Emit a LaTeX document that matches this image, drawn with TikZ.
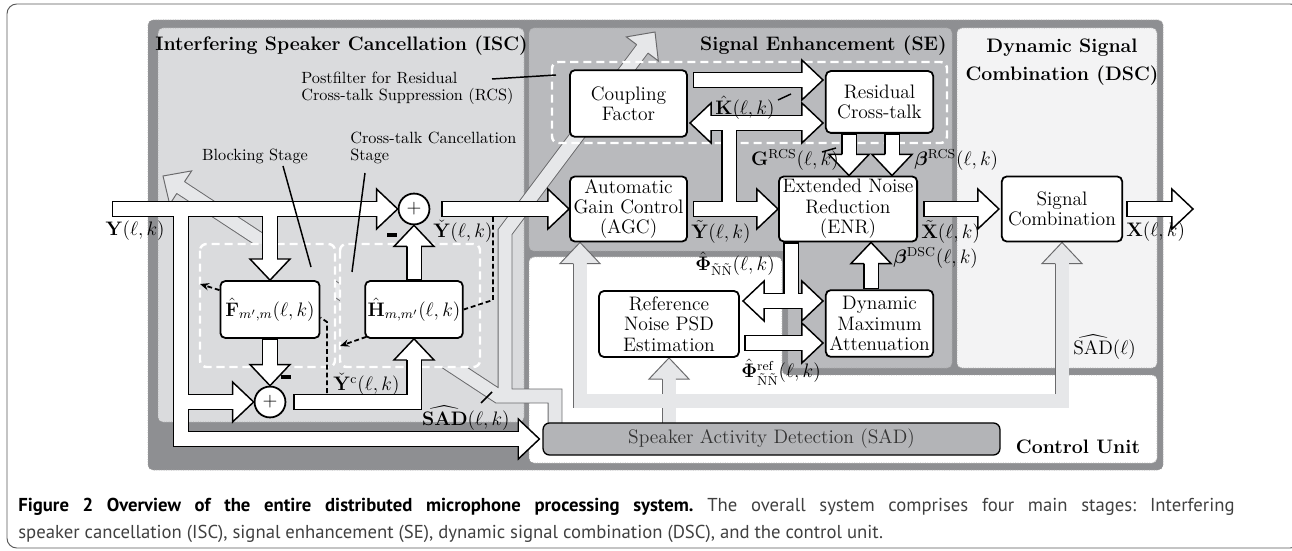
\documentclass[tikz,border=0pt]{standalone}
\usepackage{amsmath,bm}
\usepackage[no-math]{fontspec}
\newfontfamily\capfont{PT Sans}
\usetikzlibrary{calc,arrows.meta}

\definecolor{darkreg}{HTML}{8E8F92}
\definecolor{iscreg}{HTML}{DADBDD}
\definecolor{sereg}{HTML}{B9BABD}
\definecolor{dscreg}{HTML}{F3F3F4}
\definecolor{sadbar}{HTML}{B3B4B7}
\definecolor{pipefill}{HTML}{E6E7E9}
\definecolor{pipeline}{HTML}{6A6A6C}

\newcommand\bigfont{\fontsize{12}{12.5}\selectfont}
\newcommand\headat[3]{\path let \p1=($(#3)-(#2)$), \n1={atan2(\y1,\x1)} in (#3) pic[rotate=\n1] {#1};}

\pgfdeclarelayer{bg}
\pgfdeclarelayer{gp}
\pgfdeclarelayer{sb}
\pgfdeclarelayer{wp}
\pgfsetlayers{bg,gp,sb,wp,main}

\tikzset{
  region/.style={draw=black!35, densely dotted, line width=0.5pt, rounded corners=3pt},
  block/.style={draw, fill=white, line width=1.1pt, rounded corners=3pt, align=center, inner sep=1pt, font=\bigfont},
  sumnode/.style={circle, draw, fill=white, line width=1.1pt, minimum size=19pt, inner sep=0pt, font=\bigfont},
  subbox/.style={draw=white, dash pattern=on 5pt off 3pt, line width=1.5pt, rounded corners=4pt},
  wpipe/.style={draw=black, line width=0.9pt, double=white, double distance=8pt, line cap=rect, line join=miter},
  gpipe/.style={draw=pipeline, line width=0.6pt, double=pipefill, double distance=8pt, line cap=rect, line join=miter},
  ctrl/.style={line width=1.1pt, dash pattern=on 3pt off 1.8pt},
  leader/.style={line width=0.9pt},
  lbl/.style={inner sep=0pt, font=\bigfont},
  annot/.style={inner sep=0pt, font=\fontsize{10}{10.5}\selectfont, align=left},
  sectitle/.style={inner sep=0pt, font=\fontsize{12}{17.5}\selectfont\bfseries},
  minusbar/.style={fill, inner sep=0pt, minimum width=6.5pt, minimum height=1.9pt},
  whead/.pic={\filldraw[fill=white, draw=black, line width=0.9pt, line join=miter]
    (-13pt,4.45pt) -- (-13pt,12.3pt) -- (0pt,0pt) -- (-13pt,-12.3pt) -- (-13pt,-4.45pt);},
  ghead/.pic={\filldraw[fill=pipefill, draw=pipeline, line width=0.6pt, line join=miter]
    (-13pt,4.3pt) -- (-13pt,12.3pt) -- (0pt,0pt) -- (-13pt,-12.3pt) -- (-13pt,-4.3pt);},
}

\begin{document}
\begin{tikzpicture}[x=0.615pt,y=-0.615pt]
\useasboundingbox (0,0) rectangle (1292,551);

% frame, caption and regions
\begin{pgfonlayer}{bg}
\draw[black!65, line width=0.6pt, rounded corners=6pt] (7,4) rectangle (1300,548);
\draw[region, fill=darkreg] (148,20) rectangle (1163,470);
\draw[region, fill=iscreg] (158,28) rectangle (524,422);
\draw[region, fill=sereg] (529,28) -- (952,28) -- (952,368) -- (788,368) -- (788,251) -- (529,251) -- cycle;
\draw[region, fill=dscreg] (957,28) rectangle (1157,368);
\draw[region, fill=white] (529,257) -- (782,257) -- (782,375) -- (1157,375) -- (1157,463) -- (529,463) -- cycle;
\end{pgfonlayer}
\node[anchor=base west, inner sep=0pt, font=\capfont\fontsize{11.5}{14}\selectfont] (cap1) at (18,511)
  {\spaceskip=3pt plus 1fil\xspaceskip=3pt plus 1fil\makebox[748pt][s]{\textbf{Figure 2 Overview of the entire distributed microphone processing system.} \textcolor{black!75}{The overall system comprises four main stages: Interfering}}};
\node[anchor=base west, inner sep=0pt, font=\capfont\fontsize{11.5}{14}\selectfont, text=black!75] (cap2) at (18,538)
  {speaker cancellation (ISC), signal enhancement (SE), dynamic signal combination (DSC), and the control unit.};

% titles
\node[sectitle, anchor=west] (isct) at (155,46) {Interfering Speaker Cancellation (ISC)};
\node[sectitle, anchor=east] (set) at (947,46) {Signal Enhancement (SE)};
\node[sectitle, align=center] (dsct) at (1062,62) {Dynamic Signal\\Combination (DSC)};
\node[sectitle] (cut) at (1078,447) {Control Unit};

% blocks
\node[sumnode] (sumA) at (414,209) {$+$};
\node[sumnode] (sumB) at (270,402) {$+$};
\node[block, minimum width=61pt, minimum height=35pt] (fbox) at (270,309.5) {$\hat{\mathbf{F}}_{m',m}(\ell,k)$};
\node[block, minimum width=60pt, minimum height=35pt] (hbox) at (414,309.5) {$\hat{\mathbf{H}}_{m,m'}(\ell,k)$};
\node[block, minimum width=72pt, minimum height=41pt] (cf) at (628.5,103.5) {Coupling\\Factor};
\node[block, minimum width=66pt, minimum height=38pt] (rct) at (879.5,102) {Residual\\Cross-talk};
\node[block, minimum width=72pt, minimum height=40pt] (agc) at (628.5,209) {Automatic\\Gain Control\\(AGC)};
\node[block, minimum width=85pt, minimum height=40pt] (enr) at (848,209) {Extended Noise\\Reduction\\(ENR)};
\node[block, minimum width=74pt, minimum height=40pt] (sc) at (1062,209) {Signal\\Combination};
\node[block, minimum width=86pt, minimum height=40.6pt] (rpsd) at (669,324) {Reference\\Noise PSD\\Estimation};
\node[block, minimum width=66pt, minimum height=41pt] (dma) at (879.5,323.5) {Dynamic\\Maximum\\Attenuation};
\node[draw, fill=sadbar, rounded corners=4pt, line width=0.8pt, minimum width=281pt, minimum height=19.7pt,
  font=\bigfont, text=black!80] (sad) at (771.5,439) {Speaker Activity Detection (SAD)};

% gray control pipes
\begin{pgfonlayer}{gp}
\coordinate (gA) at (555,396);
\coordinate (gB) at (498,396);
\coordinate (gC) at (505,232);
\coordinate (tipUL) at (163,176);
\coordinate (tipUR) at (655,32);
\draw[gpipe] ($(gA |- sad.north)+(0,8)$) -- (gA) -- (gB) -- ($(tipUL)!13pt!(gB)$)
  (505,396) -- (gC) -- ($(tipUR)!13pt!(gC)$);
\headat{ghead}{gB}{tipUL}
\headat{ghead}{gC}{tipUR}
\coordinate (gL) at (580,401);
\coordinate (gR) at (1062,401);
\draw[gpipe] ($(gL |- agc.south)+(0,21)$) -- (gL) -- (gR) -- ($(sc.south)+(0,21)$)
  ($(rpsd.south |- sad.north)+(0,8)$) -- ($(rpsd.south)+(0,21)$);
\pic[rotate=90] at (gL |- agc.south) {ghead};
\pic[rotate=90] at (sc.south) {ghead};
\pic[rotate=90] at (rpsd.south) {ghead};
\end{pgfonlayer}

% dashed stage boxes
\begin{pgfonlayer}{sb}
\draw[subbox, fill=iscreg] (200,244) rectangle (335,367);
\draw[subbox, fill=iscreg] (340,244) rectangle (480,367);
\draw[subbox] (552,62) rectangle (947,143);
\end{pgfonlayer}

% signal pipes
\begin{pgfonlayer}{wp}
\coordinate (yin) at (120,209);
\coordinate (yv) at (181,209);
\coordinate (yb) at (181,402);
\draw[wpipe] (yin) -- ($(sumA.west)+(-21,0)$)
  (yv) |- ($(sad.west)+(-24,0)$)
  (yb) -- ($(sumB.west)+(-21,0)$)
  (fbox.north |- yv) -- ($(fbox.north)+(0,-21)$);
\pic at (sumA.west) {whead};
\pic at ($(sad.west)+(-3,0)$) {whead};
\pic at (sumB.west) {whead};
\pic[rotate=-90] at (fbox.north) {whead};
\draw[wpipe] ($(fbox.south)+(0,8)$) -- ($(sumB.north)+(0,-21)$);
\pic[rotate=-90] at (sumB.north) {whead};
\draw[wpipe] ($(sumB.east)+(15,0)$) -| ($(hbox.south)+(0,21)$);
\pic[rotate=90] at (hbox.south) {whead};
\draw[wpipe] ($(hbox.north)+(0,-8)$) -- ($(sumA.south)+(0,21)$);
\pic[rotate=90] at (sumA.south) {whead};
\draw[wpipe] ($(sumA.east)+(19,0)$) -- ($(agc.west)+(-21,0)$);
\pic at (agc.west) {whead};
\coordinate (kL) at (690,123);
\coordinate (kR) at (823,123);
\coordinate (kv) at (729,209);
\draw[wpipe] ($(agc.east)+(13,0)$) -- ($(enr.west)+(-21,0)$)
  (kv) -- (kv |- kL)
  ($(kL)+(21,0)$) -- ($(kR)+(-21,0)$);
\pic at (enr.west) {whead};
\pic[rotate=180] at (kL) {whead};
\pic at (kR) {whead};
\coordinate (rcti) at (823,80);
\draw[wpipe] ($(cf.east |- rcti)+(13,0)$) -- ($(rcti)+(-21,0)$);
\pic at (rcti) {whead};
\coordinate (rg) at (849,0);
\coordinate (rb) at (892,0);
\draw[wpipe] ($(rg |- rct.south)+(0,8)$) -- ($(rg |- enr.north)+(0,-21)$);
\draw[wpipe] ($(rb |- rct.south)+(0,8)$) -- ($(rb |- enr.north)+(0,-21)$);
\pic[rotate=-90] at (rg |- enr.north) {whead};
\pic[rotate=-90] at (rb |- enr.north) {whead};
\draw[wpipe] ($(enr.east)+(13,0)$) -- ($(sc.west)+(-23,0)$);
\pic at ($(sc.west)+(-2,0)$) {whead};
\coordinate (xo) at (1193,209);
\draw[wpipe] ($(sc.east)+(11,0)$) -- ($(xo)+(-21,0)$);
\pic at (xo) {whead};
\coordinate (pL) at (743,301);
\coordinate (pR) at (823,301);
\coordinate (pv) at (791,0);
\draw[wpipe] ($(pv |- enr.south)+(0,8)$) -- (pv |- pL)
  ($(pL)+(21,0)$) -- ($(pR)+(-21,0)$);
\pic[rotate=180] at (pL) {whead};
\pic at (pR) {whead};
\coordinate (rL) at (744,343);
\coordinate (rR) at (823,343);
\draw[wpipe] ($(rL)+(8,0)$) -- ($(rR)+(-21,0)$);
\pic at (rR) {whead};
\coordinate (dv) at (871,0);
\draw[wpipe] ($(dv |- dma.north)+(0,-8)$) -- ($(dv |- enr.south)+(0,21)$);
\pic[rotate=90] at (dv |- enr.south) {whead};
\end{pgfonlayer}

% signal labels
\node[lbl, anchor=east] (ylab) at (165,231) {$\mathbf{Y}(\ell,k)$};
\node[lbl, anchor=west] (ychk) at (433,231) {$\check{\mathbf{Y}}(\ell,k)$};
\node[lbl, anchor=west] (ychkc) at (333,384) {$\check{\mathbf{Y}}^{\mathrm{c}}(\ell,k)$};
\node[lbl, anchor=east] (sadlk) at (510,418) {$\widehat{\mathbf{SAD}}(\ell,k)$};
\node[lbl, anchor=west] (khat) at (715,108) {$\hat{\mathbf{K}}(\ell,k)$};
\node[lbl, anchor=east] (grcs) at (839,160) {$\mathbf{G}^{\mathrm{RCS}}(\ell,k)$};
\node[lbl, anchor=west] (brcs) at (914,160) {$\bm{\beta}^{\mathrm{RCS}}(\ell,k)$};
\node[lbl, anchor=west] (ytil) at (691,232) {$\tilde{\mathbf{Y}}(\ell,k)$};
\node[lbl, anchor=west] (xtil) at (921,232) {$\tilde{\mathbf{X}}(\ell,k)$};
\node[lbl, anchor=west] (xlab) at (1126,232) {$\mathbf{X}(\ell,k)$};
\node[lbl, anchor=west] (bdsc) at (893,258) {$\bm{\beta}^{\mathrm{DSC}}(\ell,k)$};
\node[lbl, anchor=west] (phnn) at (695,264) {$\hat{\mathbf{\Phi}}_{\tilde{\mathrm{N}}\tilde{\mathrm{N}}}(\ell,k)$};
\node[lbl, anchor=west] (phref) at (741,372) {$\hat{\mathbf{\Phi}}^{\mathrm{ref}}_{\tilde{\mathrm{N}}\tilde{\mathrm{N}}}(\ell,k)$};
\node[lbl, anchor=west] (sadl) at (1073,347) {$\widehat{\mathrm{SAD}}(\ell)$};
\node[minusbar] (mA) at (392,235) {};
\node[minusbar] (mB) at (286,377) {};

% stage notes
\node[annot, anchor=west] (rcsnote) at (301,88) {Postfilter for Residual\\Cross-talk Suppression (RCS)};
\node[annot] (blknote) at (255,156) {Blocking Stage};
\node[annot, anchor=west] (ctcnote) at (350,148) {Cross-talk Cancellation\\Stage};
\draw[leader] (492,79) -- (556,75);
\draw[leader] (283,166) -- (311,267);
\draw[leader] (365,173) -- (352,272);
\draw[leader] (778,100) -- (791,94);
\draw[leader] (822,152) -- (836,148);
\draw[leader] (481,403) -- (492,392);

% adaptation paths
\draw[ctrl] (493,217) -- (493,300) -- (hbox.east);
\draw[ctrl, -{Stealth[length=5.5pt,width=4.5pt]}] ($(hbox.south west)+(2,-2)$) -- (340,346);
\draw[ctrl] (327,393) -- (327,322) -- ($(fbox.east)+(0,8)$);
\draw[ctrl, -{Stealth[length=5.5pt,width=4.5pt]}] ($(fbox.north west)+(0,10)$) -- (200,284);
\end{tikzpicture}
\end{document}
